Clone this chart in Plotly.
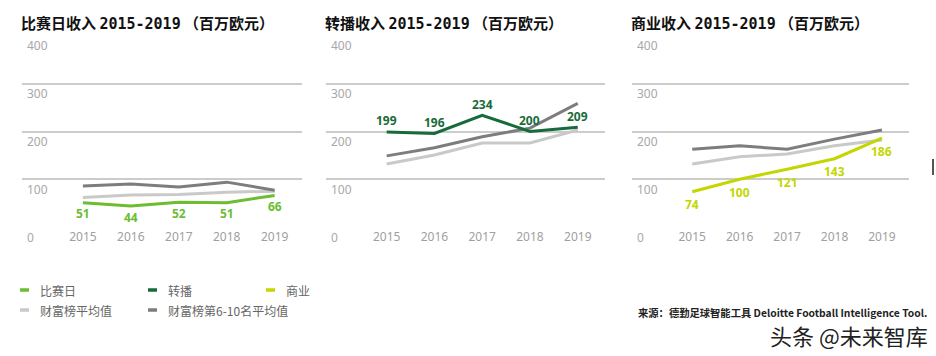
import plotly.graph_objects as go

years = [2015, 2016, 2017, 2018, 2019]

# 比赛日收入
matchday = [51, 44, 52, 51, 66]
matchday_avg = [62, 67, 68, 73, 75]
matchday_6_10 = [86, 90, 84, 94, 77]

# 转播收入
broadcast = [199, 196, 234, 200, 209]
broadcast_avg = [132, 151, 176, 176, 203]
broadcast_6_10 = [149, 166, 189, 207, 259]

# 商业收入
commercial = [74, 100, 121, 143, 186]
commercial_avg = [132, 147, 153, 170, 182]
commercial_6_10 = [163, 170, 163, 184, 203]

titles = ["比赛日收入", "转播收入", "商业收入"]
y_ticks = [0, 100, 200, 300, 400]
legend_labels = ["比赛日", "转播", "商业", "财富榜平均值", "财富榜第6-10名平均值"]

C_MATCH = "#6cbd31"
C_BROAD = "#176b3a"
C_COMM = "#c3d600"
C_AVG = "#c9c9c9"
C_610 = "#7d7d7f"

W, H = 936, 356
panels_px = [(22, 302), (326, 605), (632, 909)]
top_px, bottom_px = 35.0, 228.0

panels = [
    (titles[0], matchday, matchday_avg, matchday_6_10, C_MATCH, -11),
    (titles[1], broadcast, broadcast_avg, broadcast_6_10, C_BROAD, 11),
    (titles[2], commercial, commercial_avg, commercial_6_10, C_COMM, -13),
]

fig = go.Figure()
layout = {}
annotations = []
shapes = []

for i, (title, main, avg, top610, color, shift) in enumerate(panels):
    n = "" if i == 0 else str(i + 1)
    xa, ya = "x" + n, "y" + n
    fig.add_trace(go.Scatter(x=years, y=avg, mode="lines", line=dict(color=C_AVG, width=3),
                             xaxis=xa, yaxis=ya, showlegend=False, hoverinfo="skip"))
    fig.add_trace(go.Scatter(x=years, y=top610, mode="lines", line=dict(color=C_610, width=3),
                             xaxis=xa, yaxis=ya, showlegend=False, hoverinfo="skip"))
    fig.add_trace(go.Scatter(x=years, y=main, mode="lines", line=dict(color=color, width=3),
                             xaxis=xa, yaxis=ya, showlegend=False, hoverinfo="skip"))
    for yr, v in zip(years, main):
        annotations.append(dict(xref=xa, yref=ya, x=yr, y=v, text=f"<b>{v}</b>", showarrow=False,
                                yshift=shift, font=dict(family="Noto Sans", size=12, color=color)))
    x0, x1 = panels_px[i]
    layout["xaxis" + n] = dict(
        domain=[x0 / W, x1 / W], range=[2013.73, 2019.57], anchor=ya,
        tickvals=years, ticktext=[str(y) for y in years], showgrid=False, zeroline=False,
        showline=False, ticks="", tickfont=dict(family="Noto Sans", size=12, color="#a0a0a0"),
        fixedrange=True,
    )
    layout["yaxis" + n] = dict(
        domain=[1 - bottom_px / H, 1 - top_px / H], range=[-2, 402], anchor=xa,
        tickvals=y_ticks, showgrid=True, showticklabels=False,
        gridcolor="#cccccc", gridwidth=1.5, zeroline=False, showline=False, ticks="",
        fixedrange=True,
    )
    for t in y_ticks:
        annotations.append(dict(xref=xa + " domain", yref=ya, x=0.012, y=t, text=str(t),
                                xanchor="left", yanchor="middle", yshift=-10, showarrow=False,
                                font=dict(family="Noto Sans", size=12, color="#a8a8a8")))
    annotations.append(dict(
        xref="paper", yref="paper", x=(x0 - 3) / W, y=1 - 23 / H, xanchor="left", yanchor="middle",
        text=f"<b>{title} <span style='font-family:DejaVu Sans Mono'>2015-2019</span> （百万欧元）</b>",
        showarrow=False, font=dict(family="Noto Sans CJK SC", size=15, color="#111111"),
    ))

# legend
legend_pos = [(20, 290, C_MATCH), (148, 290, C_BROAD), (266, 290, C_COMM),
              (20, 310, C_AVG), (148, 310, C_610)]
for lab, (lx, ly, c) in zip(legend_labels, legend_pos):
    shapes.append(dict(type="line", xref="paper", yref="paper", x0=lx / W, x1=(lx + 9) / W,
                       y0=1 - ly / H, y1=1 - ly / H, line=dict(color=c, width=3.5)))
    annotations.append(dict(xref="paper", yref="paper", x=(lx + 18) / W, y=1 - ly / H,
                            xanchor="left", yanchor="middle", text=lab, showarrow=False,
                            font=dict(family="Noto Sans CJK SC", size=12, color="#666666")))

annotations.append(dict(xref="paper", yref="paper", x=928 / W, y=1 - 312 / H, xanchor="right",
                        yanchor="middle", showarrow=False, borderpad=0,
                        text="<b>来源：德勤足球智能工具 Deloitte Football Intelligence Tool.</b>",
                        font=dict(family="Noto Sans CJK SC", size=10.3, color="#222222")))
annotations.append(dict(xref="paper", yref="paper", x=929 / W, y=1 - 335 / H, xanchor="right",
                        yanchor="middle", showarrow=False, borderpad=0, text="头条 @未来智库",
                        font=dict(family="Noto Sans CJK SC", size=22, color="#222222")))
shapes.append(dict(type="line", xref="paper", yref="paper", x0=933 / W, x1=933 / W,
                   y0=1 - 159 / H, y1=1 - 175 / H, line=dict(color="#555555", width=2)))

fig.update_layout(
    width=W, height=H, margin=dict(l=0, r=0, t=0, b=0),
    paper_bgcolor="white", plot_bgcolor="white",
    annotations=annotations, shapes=shapes, showlegend=False, **layout,
)

fig.write_html("out.html", config={"displayModeBar": False},
               post_script="document.body.style.margin='0';")
